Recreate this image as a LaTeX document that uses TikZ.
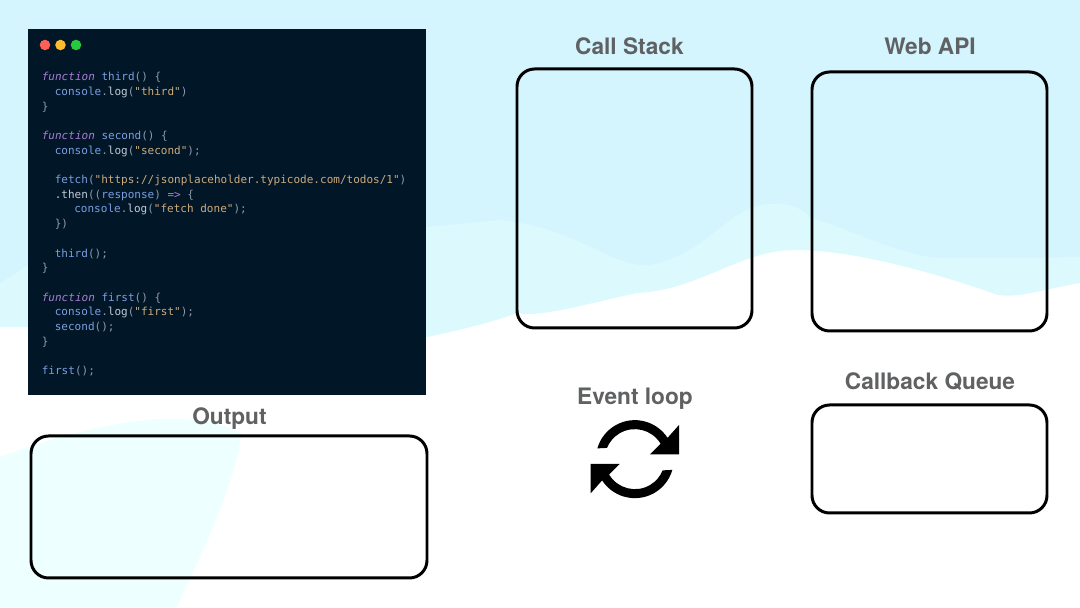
\documentclass[tikz,border=0pt]{standalone}
\usepackage{xcolor}
\usepackage{fontspec}
\usepackage{tikz}
\setmainfont{TeX Gyre Heros}
\newfontfamily\codefont{DejaVu Sans Mono}
\usetikzlibrary{positioning}

\definecolor{skyband}{HTML}{D4F5FE}
\definecolor{paleband}{HTML}{DCFAFE}
\definecolor{palecorner}{HTML}{EDFFFF}
\definecolor{codebg}{HTML}{011627}
\definecolor{headgray}{HTML}{5F6163}
\definecolor{kwcol}{HTML}{A97CD6}
\definecolor{fncol}{HTML}{7A9EE0}
\definecolor{strcol}{HTML}{CDAA7C}
\definecolor{puncol}{HTML}{8E9AAA}
\definecolor{logcol}{HTML}{BFCAD6}

\newcommand{\kw}[1]{\textcolor{kwcol}{\itshape #1}}
\newcommand{\fn}[1]{\textcolor{fncol}{#1}}
\newcommand{\strg}[1]{\textcolor{strcol}{#1}}
\newcommand{\pun}[1]{\textcolor{puncol}{#1}}
\newcommand{\logcall}{\fn{console}\pun{.}\textcolor{logcol}{log}}

\tikzset{
  panelbox/.style={draw=black, line width=1.7pt, rounded corners=10pt},
  headlabel/.style={text=headgray, font=\fontsize{12.9}{15}\selectfont\bfseries, inner sep=0pt},
  codetext/.style={anchor=base west, inner sep=0pt, text=puncol, font=\codefont\fontsize{6.27}{8}\selectfont},
  winlight/.style={circle, inner sep=0pt, minimum size=6pt}
}

\begin{document}
\begin{tikzpicture}[x=0.02cm, y=0.02cm]
  \useasboundingbox (0,0) rectangle (1080,608);

  % background
  \fill[white] (0,0) rectangle (1080,608);
  \fill[paleband] (0,608) -- (1080,608) -- (1080,325)
      .. controls (1040,318) and (1020,310) .. (998,313)
      .. controls (950,330) and (860,358) .. (795,358)
      .. controls (740,358) and (700,318) .. (637,315)
      .. controls (590,305) and (540,290) .. (517,295)
      .. controls (490,285) and (460,278) .. (427,271)
      -- (28,281) -- (0,281) -- cycle;
  \fill[skyband] (0,608) -- (1080,608) -- (1080,351)
      .. controls (1020,350) and (970,350) .. (949,350)
      .. controls (910,348) and (860,375) .. (812,390)
      .. controls (795,405) and (785,404) .. (770,404)
      .. controls (730,404) and (710,355) .. (650,343)
      .. controls (610,340) and (580,380) .. (500,388)
      -- (427,381) -- (28,343) -- (0,325) -- cycle;
  \fill[palecorner] (0,151)
      .. controls (50,170) and (110,185) .. (148,188)
      .. controls (190,192) and (220,185) .. (241,175)
      .. controls (238,130) and (200,50) .. (176,0)
      -- (0,0) -- cycle;

  % code window
  \fill[codebg] (28,213) rectangle (426,579);
  \node[winlight, fill={rgb,255:red,255;green,95;blue,86}] (dotred) at (45,563) {};
  \node[winlight, fill={rgb,255:red,255;green,189;blue,46}] (dotyellow) at (60.5,563) {};
  \node[winlight, fill={rgb,255:red,39;green,201;blue,63}] (dotgreen) at (76,563) {};

  \node[codetext] (lineA) at (41.5,527.3) {\kw{function} \fn{third}() \{};
  \node[codetext] (lineB) at (54.5,512.6) {\logcall(\strg{"third"})};
  \node[codetext] (lineC) at (41.5,497.9) {\}};
  \node[codetext] (lineD) at (41.5,468.5) {\kw{function} \fn{second}() \{};
  \node[codetext] (lineE) at (54.5,453.8) {\logcall(\strg{"second"});};
  \node[codetext] (lineF) at (54.5,424.4) {\fn{fetch}(\strg{"https://jsonplaceholder.typicode.com/todos/1"})};
  \node[codetext] (lineG) at (54.5,409.7) {\textcolor{logcol}{.then}((\fn{response}) \textcolor{kwcol}{=>} \{};
  \node[codetext] (lineH) at (74,395) {\logcall(\strg{"fetch done"});};
  \node[codetext] (lineI) at (54.5,380.3) {\})};
  \node[codetext] (lineJ) at (54.5,350.9) {\fn{third}();};
  \node[codetext] (lineK) at (41.5,336.2) {\}};
  \node[codetext] (lineL) at (41.5,306.8) {\kw{function} \fn{first}() \{};
  \node[codetext] (lineM) at (54.5,292.1) {\logcall(\strg{"first"});};
  \node[codetext] (lineN) at (54.5,277.4) {\fn{second}();};
  \node[codetext] (lineO) at (41.5,262.7) {\}};
  \node[codetext] (lineP) at (41.5,233.3) {\fn{first}();};

  % boxes
  \draw[panelbox] (517,280) rectangle (752,539);
  \draw[panelbox] (812,277) rectangle (1047,536);
  \draw[panelbox] (812,95) rectangle (1047,203);
  \draw[panelbox] (31,30) rectangle (427,172);

  % headings
  \node[headlabel] (stacklabel) at (629.5,562) {Call Stack};
  \node[headlabel] (weblabel) at (930,562) {Web API};
  \node[headlabel] (queuelabel) at (930,226) {Callback Queue};
  \node[headlabel] (looplabel) at (635,209.5) {Event loop};
  \node[headlabel] (outlabel) at (229.5,189.5) {Output};

  % event loop icon
  \foreach \turn in {0,180} {
    \begin{scope}[shift={(634.85,148.85)}, rotate=\turn]
      \fill[black] (164:39) arc[start angle=164, end angle=33, radius=39]
          -- (44.15,34.15) -- (44.15,4.85) -- (15.15,4.85)
          -- (31:30) arc[start angle=31, end angle=158, radius=30] -- cycle;
    \end{scope}
  }
\end{tikzpicture}
\end{document}
